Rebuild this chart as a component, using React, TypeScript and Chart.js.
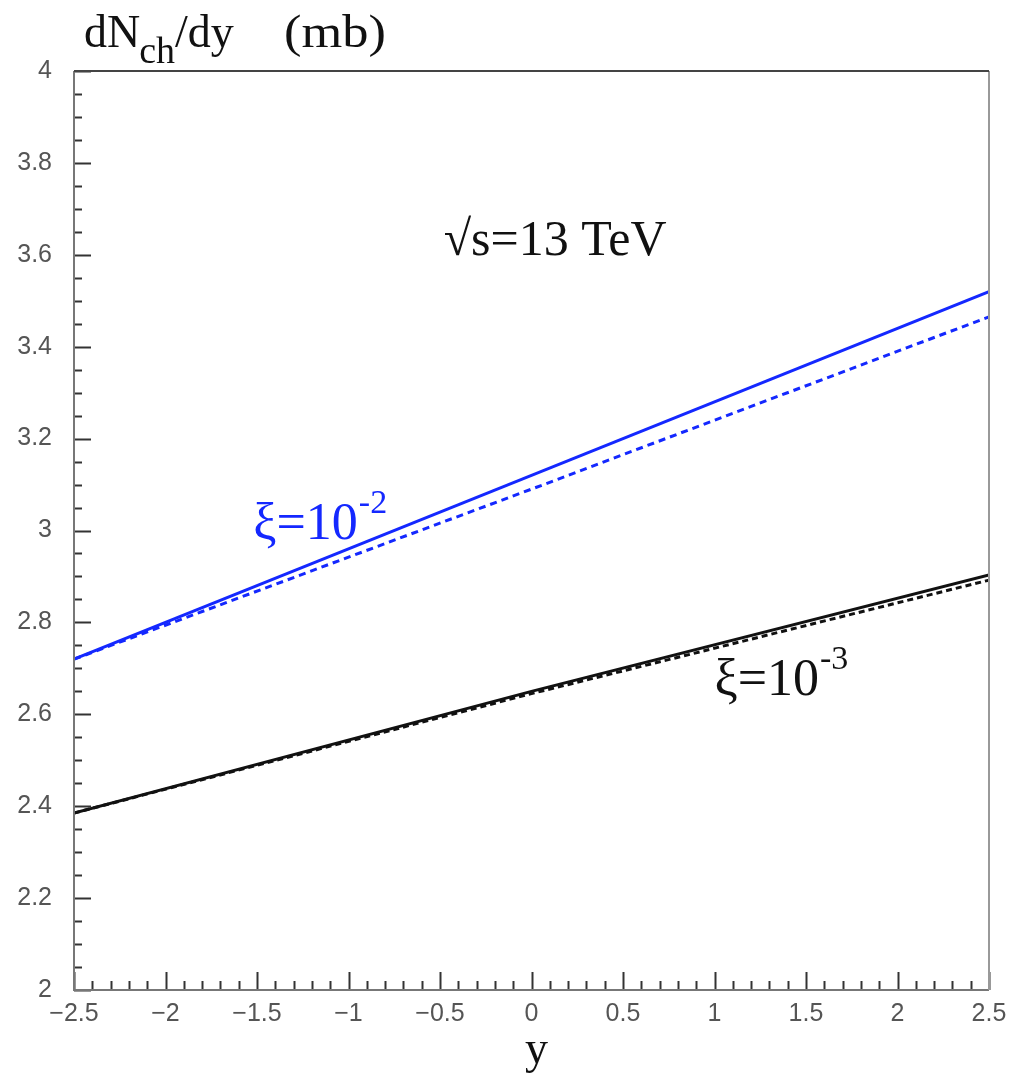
import { useEffect, useRef } from "react";
import { Chart, registerables } from "chart.js";

Chart.register(...registerables);

// Rapidity grid and charged multiplicity curves
const rapidity = [-2.5, 0, 2.5];
const xi2Solid = [2.72, 3.12, 3.52];
const xi2Dashed = [2.72, 3.09, 3.465];
const xi3Solid = [2.385, 2.65, 2.903];
const xi3Dashed = [2.385, 2.645, 2.892];

const xMajorStep = 0.5;
const xMinorStep = 0.1;
const yMajorStep = 0.2;
const yMinorStep = 0.05;

const BLUE = "rgb(20,40,255)";
const BLACK = "#111111";
const SERIF = "'Liberation Serif', 'DejaVu Serif', serif";
const SANS = "'Liberation Sans', Arial, sans-serif";

const toPoints = (ys: number[]) => rapidity.map((x, i) => ({ x, y: ys[i] }));

const fmt = (v: number) => {
  const s = String(Number(v.toFixed(2)));
  return s.startsWith("-") ? "\u2212" + s.slice(1) : s;
};

const framePlugin = {
  id: "frameAndLabels",
  afterDatasetsDraw(chart: any) {
    const { ctx, chartArea, scales } = chart;
    const xs = scales.x;
    const ys = scales.y;
    const { left, right, top, bottom } = chartArea;
    ctx.save();

    // inward tick marks on the left and bottom axes
    ctx.strokeStyle = "#333";
    ctx.lineWidth = 2;
    const yMin = ys.min, yMax = ys.max;
    const nY = Math.round((yMax - yMin) / yMinorStep);
    for (let i = 0; i <= nY; i++) {
      const v = yMin + i * yMinorStep;
      const major = Math.abs(v / yMajorStep - Math.round(v / yMajorStep)) < 1e-6;
      const py = Math.round(ys.getPixelForValue(v)) + 0.5;
      ctx.beginPath();
      ctx.moveTo(left, py);
      ctx.lineTo(left + (major ? 17 : 8), py);
      ctx.stroke();
    }
    const xMin = xs.min, xMax = xs.max;
    const nX = Math.round((xMax - xMin) / xMinorStep);
    for (let i = 0; i <= nX; i++) {
      const v = xMin + i * xMinorStep;
      const major = Math.abs(v / xMajorStep - Math.round(v / xMajorStep)) < 1e-6;
      const px = Math.round(xs.getPixelForValue(v)) + 0.5;
      ctx.beginPath();
      ctx.moveTo(px, bottom);
      ctx.lineTo(px, bottom - (major ? 18 : 9));
      ctx.stroke();
    }

    // frame
    ctx.lineWidth = 2;
    ctx.strokeStyle = "#777";
    ctx.beginPath();
    ctx.moveTo(left, top);
    ctx.lineTo(left, bottom);
    ctx.lineTo(right, bottom);
    ctx.stroke();
    ctx.strokeStyle = "#999";
    ctx.beginPath();
    ctx.moveTo(right, bottom);
    ctx.lineTo(right, top);
    ctx.stroke();
    ctx.strokeStyle = "#444";
    ctx.beginPath();
    ctx.moveTo(left, top);
    ctx.lineTo(right, top);
    ctx.stroke();

    // axis titles
    ctx.fillStyle = "#111";
    ctx.textBaseline = "alphabetic";
    ctx.textAlign = "left";
    ctx.font = `46px ${SERIF}`;
    ctx.fillText("dN", 84, 47);
    let cx = 84 + ctx.measureText("dN").width;
    ctx.font = `38px ${SERIF}`;
    ctx.fillText("ch", cx - 1, 63);
    cx += ctx.measureText("ch").width - 1;
    ctx.font = `46px ${SERIF}`;
    ctx.fillText("/dy", cx, 47);
    ctx.save();
    ctx.translate(284, 47);
    ctx.scale(1.14, 1);
    ctx.fillText("(mb)", 0, 0);
    ctx.restore();

    ctx.font = `46px ${SERIF}`;
    ctx.fillText("y", 525, 1063);

    // energy label
    ctx.font = `50px ${SERIF}`;
    ctx.fillText("\u221As=13 TeV", xs.getPixelForValue(-0.48), ys.getPixelForValue(3.6));

    // curve labels
    const xiLabel = (x: number, y: number, exp: string, color: string) => {
      const px = xs.getPixelForValue(x);
      const py = ys.getPixelForValue(y);
      ctx.fillStyle = color;
      ctx.font = `52px ${SERIF}`;
      ctx.fillText("\u03BE=10", px, py);
      const w = ctx.measureText("\u03BE=10").width;
      ctx.font = `34px ${SERIF}`;
      ctx.fillText(exp, px + w + 1, py - 26);
    };
    xiLabel(-1.52, 2.981, "-2", BLUE);
    xiLabel(1.0, 2.642, "-3", BLACK);

    ctx.restore();
  },
};

export default function App() {
  const canvasRef = useRef<HTMLCanvasElement | null>(null);

  useEffect(() => {
    document.body.style.margin = "0";
    const canvas = canvasRef.current;
    if (!canvas) return;
    const chart = new Chart(canvas, {
      type: "line",
      data: {
        datasets: [
          { label: "xi=1e-2", data: toPoints(xi2Solid), borderColor: BLUE, borderWidth: 3 },
          { label: "xi=1e-2 dashed", data: toPoints(xi2Dashed), borderColor: BLUE, borderWidth: 3, borderDash: [7, 5] },
          { label: "xi=1e-3", data: toPoints(xi3Solid), borderColor: BLACK, borderWidth: 3 },
          { label: "xi=1e-3 dashed", data: toPoints(xi3Dashed), borderColor: BLACK, borderWidth: 3, borderDash: [6, 4] },
        ],
      },
      options: {
        responsive: false,
        animation: false,
        devicePixelRatio: 1,
        parsing: false as any,
        elements: { point: { radius: 0 }, line: { tension: 0 } },
        layout: { padding: { top: 71, right: 21, left: 0, bottom: 0 } },
        plugins: { legend: { display: false }, tooltip: { enabled: false }, title: { display: false } },
        scales: {
          x: {
            type: "linear",
            min: -2.5,
            max: 2.5,
            grid: { display: false, drawTicks: false },
            border: { display: false },
            ticks: {
              stepSize: xMajorStep,
              padding: 9,
              color: "#555",
              font: { family: SANS, size: 25 },
              callback: (v: any) => fmt(Number(v)),
            },
            afterFit: (s: any) => {
              s.height = 83;
              s.paddingLeft = 0;
              s.paddingRight = 0;
            },
          },
          y: {
            type: "linear",
            min: 2,
            max: 4,
            grid: { display: false, drawTicks: false },
            border: { display: false },
            ticks: {
              stepSize: yMajorStep,
              padding: 22,
              color: "#555",
              font: { family: SANS, size: 25 },
              callback: (v: any) => fmt(Number(v)),
            },
            afterFit: (s: any) => {
              s.width = 74;
              s.paddingTop = 0;
              s.paddingBottom = 0;
            },
          },
        },
      },
      plugins: [framePlugin],
    });
    return () => chart.destroy();
  }, []);

  return (
    <div style={{ position: "relative", width: 1010, height: 1073, background: "#fff" }}>
      <canvas ref={canvasRef} width={1010} height={1073} style={{ display: "block" }} />
    </div>
  );
}
